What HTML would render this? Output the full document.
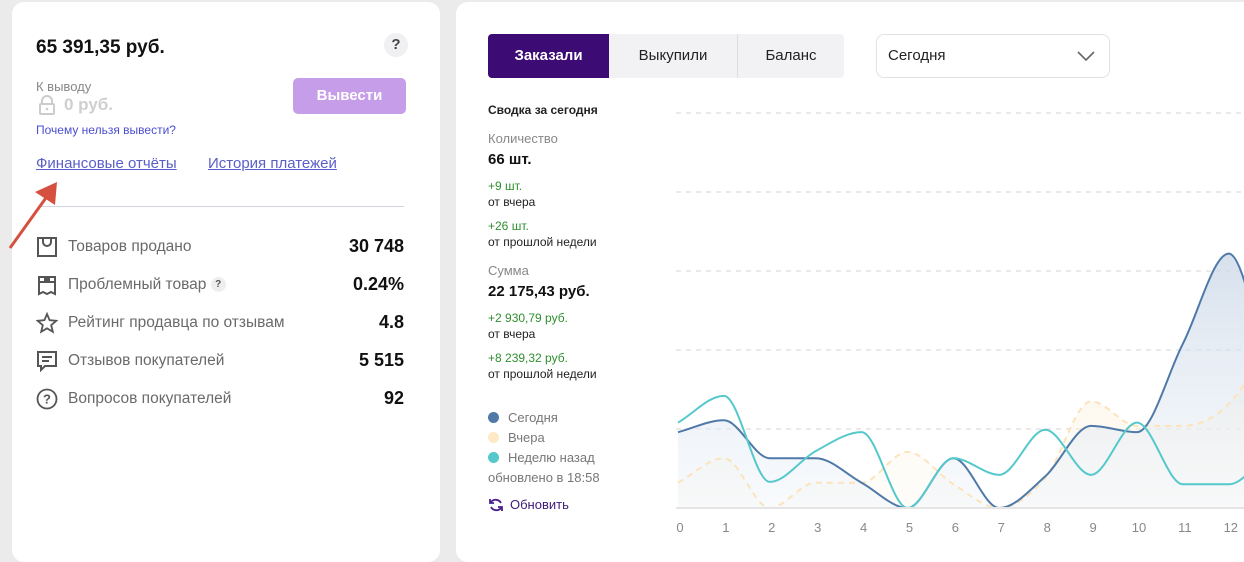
<!DOCTYPE html>
<html><head><meta charset="utf-8"><style>
body{margin:0;width:1244px;height:550px;background:#ebebeb;font-family:"Liberation Sans","Noto Sans CJK SC",sans-serif;position:relative;overflow:hidden}
.a{position:absolute;white-space:nowrap}
.card{position:absolute;background:#fff;border-radius:12px}
.lbl{font-size:15.5px;color:#6a6a6a;left:68px}
.val{font-size:18px;font-weight:bold;color:#111;right:36px;text-align:right}
.ico{left:36px;width:22px;height:22px}
.sm{font-size:12px;color:#222;left:488px}
.gr{font-size:12px;color:#2f8f2f;left:488px}
.lg{font-size:13px;color:#777;left:508px}
</style></head><body>
<div class="card" style="left:12px;top:2px;width:428px;height:560px">
</div>
<div class="a" style="left:36px;top:37px;font-size:19px;font-weight:bold;color:#111">65 391,35 руб.</div>
<div class="a" style="left:384px;top:33px;width:24px;height:24px;border-radius:12px;background:#f0f0f2;text-align:center;line-height:24px;font-weight:bold;color:#444;font-size:15px">?</div>
<div class="a" style="left:36px;top:79px;font-size:13px;color:#888">К выводу</div>
<svg class="a" style="left:37px;top:95px" width="20" height="20"><path d="M5 9V6a5 5 0 0 1 10 0v3" fill="none" stroke="#ccc" stroke-width="2"/><rect x="3" y="9" width="14" height="10" rx="1" fill="none" stroke="#ccc" stroke-width="2"/><circle cx="10" cy="14" r="1.3" fill="#ccc"/></svg>
<div class="a" style="left:64px;top:95px;font-size:17px;font-weight:bold;color:#cfcfcf">0 руб.</div>
<div class="a" style="left:36px;top:123px;font-size:12px;color:#4a4ed0">Почему нельзя вывести?</div>
<div class="a" style="left:293px;top:78px;width:113px;height:36px;border-radius:5px;background:#c69de8;color:#fff;font-weight:bold;font-size:15px;text-align:center;line-height:36px">Вывести</div>
<div class="a" style="left:36px;top:155px;font-size:15px;color:#5a5fc8;text-decoration:underline">Финансовые отчёты</div>
<div class="a" style="left:208px;top:155px;font-size:15px;color:#5a5fc8;text-decoration:underline">История платежей</div>
<div class="a" style="left:40px;top:206px;width:364px;height:1px;background:#d6d3e0"></div>
<svg class="a" style="left:0;top:170px" width="70" height="90"><line x1="10" y1="78" x2="48" y2="25" stroke="#d6503f" stroke-width="3"/><polygon points="57,12 35,22 55,35" fill="#d6503f"/></svg>

<svg class="a ico" style="top:236px" viewBox="0 0 22 22"><rect x="2" y="2" width="18" height="18" fill="none" stroke="#555" stroke-width="2"/><path d="M7 3v3a4 4 0 0 0 8 0V3" fill="none" stroke="#555" stroke-width="2"/></svg>
<div class="a lbl" style="top:238px">Товаров продано</div>
<div class="a val" style="top:236px;right:840px;left:auto">30 748</div>
<svg class="a ico" style="top:274px" viewBox="0 0 22 22"><path d="M3 3h16v5H3zM3 8v12l4-2 4 2 4-2 4 2V8" fill="none" stroke="#555" stroke-width="2"/><rect x="8" y="4" width="6" height="3" fill="#555"/></svg>
<div class="a lbl" style="top:276px">Проблемный товар <span style="display:inline-block;width:15px;height:15px;border-radius:8px;background:#eee;font-size:10px;font-weight:bold;text-align:center;line-height:15px;color:#555;vertical-align:2px">?</span></div>
<div class="a val" style="top:274px;right:840px;left:auto">0.24%</div>
<svg class="a ico" style="top:312px" viewBox="0 0 22 22"><polygon points="11,2 13.6,8.2 20.3,8.8 15.2,13.2 16.8,19.8 11,16.3 5.2,19.8 6.8,13.2 1.7,8.8 8.4,8.2" fill="none" stroke="#555" stroke-width="1.8"/></svg>
<div class="a lbl" style="top:314px">Рейтинг продавца по отзывам</div>
<div class="a val" style="top:312px;right:840px;left:auto">4.8</div>
<svg class="a ico" style="top:350px" viewBox="0 0 22 22"><path d="M2 2h18v14H9l-4 4v-4H2z" fill="none" stroke="#555" stroke-width="2"/><path d="M6 7h10M6 11h7" stroke="#555" stroke-width="2"/></svg>
<div class="a lbl" style="top:352px">Отзывов покупателей</div>
<div class="a val" style="top:350px;right:840px;left:auto">5 515</div>
<svg class="a ico" style="top:388px" viewBox="0 0 22 22"><circle cx="11" cy="11" r="9.5" fill="none" stroke="#555" stroke-width="1.8"/><text x="11" y="15.5" font-size="13" font-weight="bold" text-anchor="middle" fill="#555" font-family="Liberation Sans">?</text></svg>
<div class="a lbl" style="top:390px">Вопросов покупателей</div>
<div class="a val" style="top:388px;right:840px;left:auto">92</div>

<div class="card" style="left:456px;top:2px;width:820px;height:560px"></div>
<div class="a" style="left:488px;top:34px;width:121px;height:44px;background:#3c0b73;color:#fff;font-size:15px;font-weight:bold;text-align:center;line-height:44px;border-radius:4px 0 0 4px">Заказали</div>
<div class="a" style="left:609px;top:34px;width:128px;height:44px;background:#f2f2f5;color:#222;font-size:15px;text-align:center;line-height:44px;border-right:1px solid #ddd">Выкупили</div>
<div class="a" style="left:738px;top:34px;width:106px;height:44px;background:#f2f2f5;color:#222;font-size:15px;text-align:center;line-height:44px;border-radius:0 4px 4px 0">Баланс</div>
<div class="a" style="left:876px;top:34px;width:232px;height:42px;border:1px solid #e2e2e6;border-radius:8px;font-size:15px;color:#222;line-height:42px;text-indent:11px">Сегодня<svg style="position:absolute;right:14px;top:16px" width="18" height="11"><path d="M1 1l8 8 8-8" fill="none" stroke="#666" stroke-width="1.6"/></svg></div>

<div class="a sm" style="top:103px;font-weight:bold">Сводка за сегодня</div>
<div class="a" style="left:488px;top:131px;font-size:13px;color:#888">Количество</div>
<div class="a" style="left:488px;top:151px;font-size:15px;font-weight:bold;color:#111">66 шт.</div>
<div class="a gr" style="top:179px">+9 шт.</div>
<div class="a sm" style="top:195px">от вчера</div>
<div class="a gr" style="top:219px">+26 шт.</div>
<div class="a sm" style="top:235px">от прошлой недели</div>
<div class="a" style="left:488px;top:263px;font-size:13px;color:#888">Сумма</div>
<div class="a" style="left:488px;top:283px;font-size:15px;font-weight:bold;color:#111">22 175,43 руб.</div>
<div class="a gr" style="top:311px">+2 930,79 руб.</div>
<div class="a sm" style="top:327px">от вчера</div>
<div class="a gr" style="top:351px">+8 239,32 руб.</div>
<div class="a sm" style="top:367px">от прошлой недели</div>

<div class="a" style="left:488px;top:412px;width:11px;height:11px;border-radius:6px;background:#4f79a8"></div>
<div class="a lg" style="top:410px">Сегодня</div>
<div class="a" style="left:488px;top:432px;width:11px;height:11px;border-radius:6px;background:#fde9c4"></div>
<div class="a lg" style="top:430px">Вчера</div>
<div class="a" style="left:488px;top:452px;width:11px;height:11px;border-radius:6px;background:#55c8cc"></div>
<div class="a lg" style="top:450px">Неделю назад</div>
<div class="a" style="left:488px;top:470px;font-size:13px;color:#777">обновлено в 18:58</div>
<svg class="a" style="left:488px;top:497px" width="16" height="16"><path d="M13 6A6 6 0 0 0 3 5M3 10a6 6 0 0 0 10 1" fill="none" stroke="#4a1e8c" stroke-width="1.8"/><path d="M2 2v4h4M14 14v-4h-4" fill="none" stroke="#4a1e8c" stroke-width="1.8"/></svg>
<div class="a" style="left:510px;top:497px;font-size:13px;color:#3c1a78">Обновить</div>

<svg id="chart" class="a" style="left:0;top:0" width="1244" height="550"></svg>
<script>
const hours=["0","1","2","3","4","5","6","7","8","9","10","11","12","13"];
const today=[9.6,11.1,6.3,6.3,3.2,0,6.3,0,4,10.4,9.6,20.8,32.2,14];
const yesterday=[3.2,6.3,0,3.2,3.2,7.1,3,0,3.8,13.5,10.4,10.4,13.2,22];
const weekAgo=[10.8,14.2,3.3,7.2,9.6,0,6.3,4.2,9.9,4.2,10.8,3,3,8];
const gridValues=[10,20,30,40,50];
const NS="http://www.w3.org/2000/svg";
const svg=document.getElementById('chart');
const X0=678,DX=45.9,Y0=508,PX=7.9,XMIN=676;
const xs=i=>X0+DX*i, ys=v=>Y0-v*PX;
function mk(t,a){const e=document.createElementNS(NS,t);for(const k in a)e.setAttribute(k,a[k]);svg.appendChild(e);return e;}
const defs=mk('defs',{});
defs.innerHTML='<linearGradient id="gb" x1="0" y1="0" x2="0" y2="1"><stop offset="0" stop-color="#c9d6e6" stop-opacity=".75"/><stop offset="1" stop-color="#eef3f9" stop-opacity=".4"/></linearGradient><linearGradient id="gy" x1="0" y1="0" x2="0" y2="1"><stop offset="0" stop-color="#fbefd6" stop-opacity=".6"/><stop offset="1" stop-color="#fdf8ee" stop-opacity=".3"/></linearGradient><clipPath id="cp"><rect x="676" y="90" width="568" height="420"/></clipPath>';
gridValues.forEach(v=>{const l=mk('line',{x1:676,x2:1244,y1:ys(v),y2:ys(v),stroke:'#e3e3e3','stroke-width':1.5,'stroke-dasharray':'5,5'});
});
function monotone(vals){const n=vals.length,p=vals.map((v,i)=>[xs(i),ys(v)]);const d=[],m=[];
for(let i=0;i<n-1;i++)d.push((p[i+1][1]-p[i][1])/(p[i+1][0]-p[i][0]));
for(let i=0;i<n;i++){if(i==0)m.push(d[0]);else if(i==n-1)m.push(d[n-2]);else m.push(d[i-1]*d[i]<=0?0:(d[i-1]+d[i])/2);}
for(let i=0;i<n-1;i++){if(d[i]==0){m[i]=m[i+1]=0;continue;}const a=m[i]/d[i],b=m[i+1]/d[i],s=a*a+b*b;if(s>9){const t=3/Math.sqrt(s);m[i]=t*a*d[i];m[i+1]=t*b*d[i];}}
let s='M'+p[0][0]+','+p[0][1];
for(let i=0;i<n-1;i++){const h=(p[i+1][0]-p[i][0])/3;s+=`C${p[i][0]+h},${p[i][1]+m[i]*h} ${p[i+1][0]-h},${p[i+1][1]-m[i+1]*h} ${p[i+1][0]},${p[i+1][1]}`;}
return s;}
const g=mk('g',{'clip-path':'url(#cp)'});
function add(t,a){const e=document.createElementNS(NS,t);for(const k in a)e.setAttribute(k,a[k]);g.appendChild(e);return e;}
const last=xs(hours.length-1);
let e=add('path',{d:monotone(yesterday)+`L${last},${Y0}L${X0},${Y0}Z`,fill:'url(#gy)'});

e=add('path',{d:monotone(today)+`L${last},${Y0}L${X0},${Y0}Z`,fill:'url(#gb)'});

e=add('path',{d:monotone(yesterday),fill:'none',stroke:'#fbe3bb','stroke-width':2,'stroke-dasharray':'6,5'});

e=add('path',{d:monotone(today),fill:'none',stroke:'#4f79a8','stroke-width':2});

e=add('path',{d:monotone(weekAgo),fill:'none',stroke:'#55c8cc','stroke-width':2});

e=mk('line',{x1:676,x2:1244,y1:Y0,y2:Y0,stroke:'#e4e4e4','stroke-width':2});

hours.slice(0,13).forEach((h,i)=>{const t=mk('text',{x:xs(i)+2,y:532,'text-anchor':'middle','font-size':13,fill:'#888','font-family':'Liberation Sans'});t.textContent=h;
});
</script>
</body></html>
